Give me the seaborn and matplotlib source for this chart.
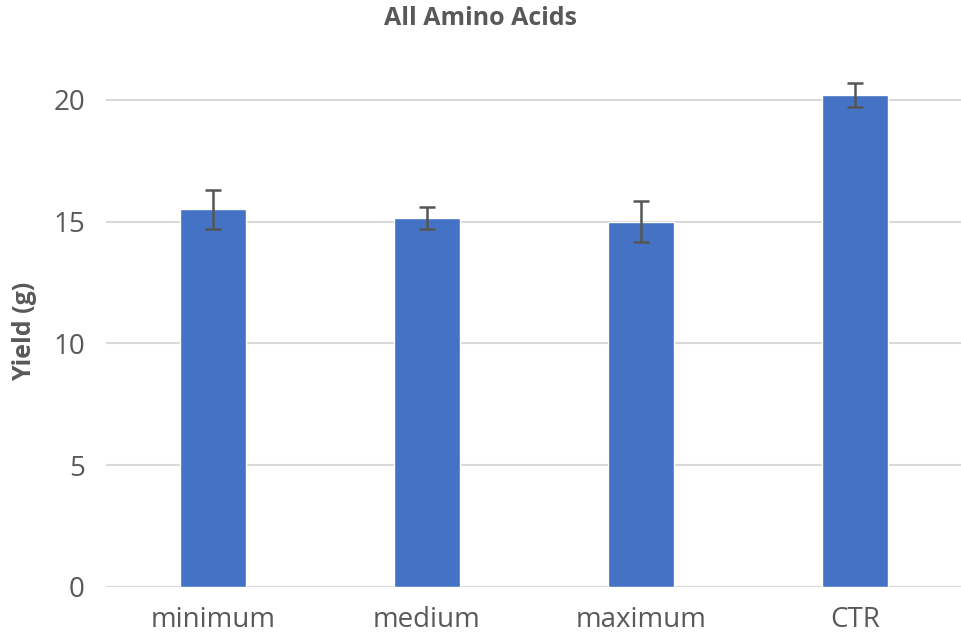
import matplotlib
matplotlib.use("Agg")
import matplotlib.pyplot as plt
import seaborn as sns
import pandas as pd

# --- Data ---
categories = ["minimum", "medium", "maximum", "CTR"]
yield_g = [15.5, 15.15, 15.0, 20.2]
yield_err = [0.8, 0.45, 0.85, 0.5]
y_ticks = [0, 5, 10, 15, 20]

df = pd.DataFrame({"Treatment": categories, "Yield": yield_g, "Err": yield_err})

# --- Styling ---
sns.set_style("white")
plt.rcParams['font.family'] = ['Open Sans', 'DejaVu Sans']
text_grey = '#595959'

fig = plt.figure(figsize=(9.62, 6.4), dpi=100)
ax = fig.add_axes([0.110, 0.083, 0.890, 0.799])

sns.barplot(data=df, x='Treatment', y='Yield', color='#4472C4', width=0.31,
            saturation=1, ax=ax, zorder=2)
ax.errorbar(range(len(categories)), df['Yield'], yerr=df['Err'], fmt='none',
            ecolor='#555555', elinewidth=1.8, capsize=5.8, capthick=1.8, zorder=3)

ax.set_xlim(-0.5, len(categories) - 0.5)
ax.set_ylim(0, 21)
ax.set_yticks(y_ticks)
ax.yaxis.grid(True, color='#D9D9D9', linewidth=1.5, zorder=0)
ax.set_axisbelow(True)
for side in ['top', 'right', 'left', 'bottom']:
    ax.spines[side].set_visible(False)
ax.axhline(0, color='#D9D9D9', linewidth=1.5, zorder=1)

ax.tick_params(axis='both', length=0, labelsize=20, colors=text_grey)
ax.tick_params(axis='x', pad=14)
ax.tick_params(axis='y', pad=15)
ax.set_xlabel('')
ax.set_ylabel('Yield (g)', fontsize=18, fontweight='bold', color=text_grey, labelpad=12)
fig.suptitle('All Amino Acids', fontsize=18, fontweight='bold', color=text_grey, y=0.99)

plt.savefig('out.png', dpi=100)
plt.close()
